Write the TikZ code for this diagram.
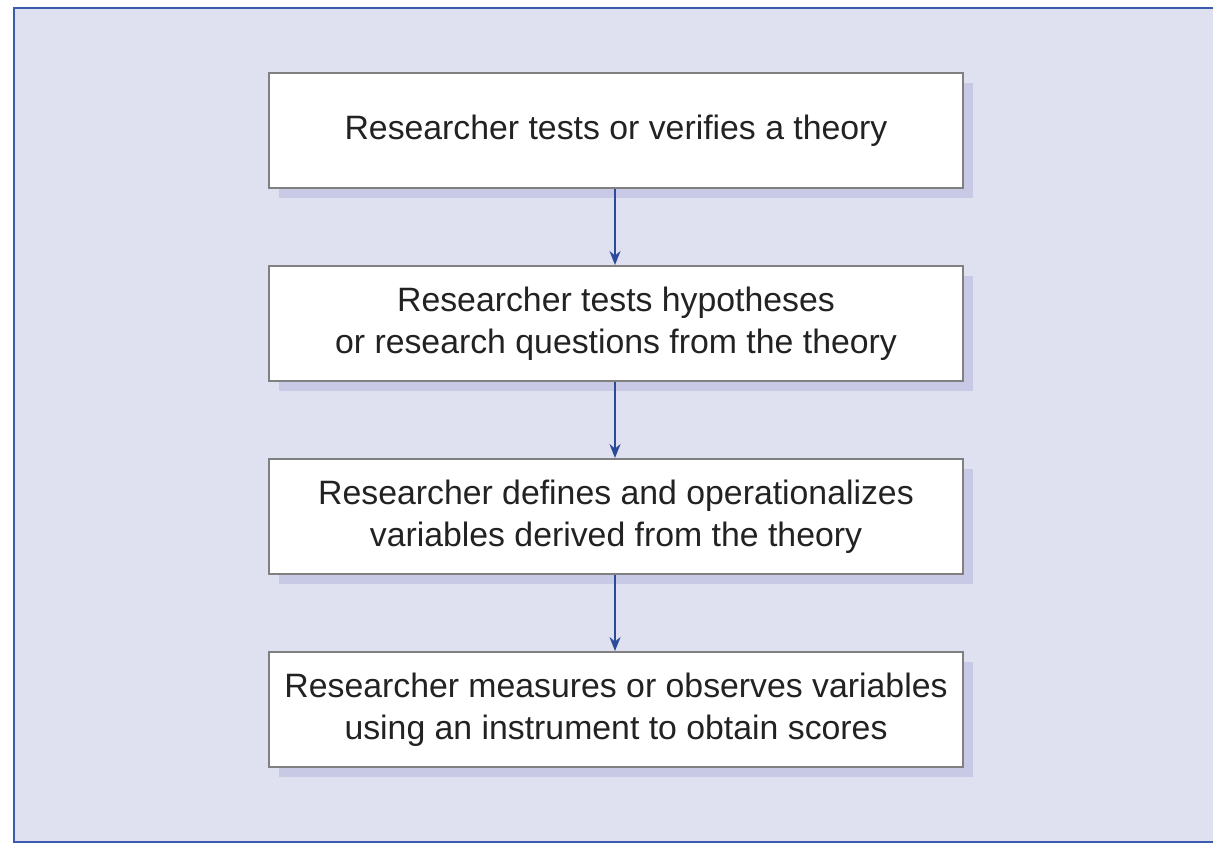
\documentclass[tikz,border=0pt]{standalone}
\usepackage{fontspec}
\setmainfont{Liberation Sans}
\usetikzlibrary{arrows.meta,shadows}
\definecolor{panelbg}{HTML}{DFE0F0}
\definecolor{panelrule}{HTML}{3A5BB0}
\definecolor{boxshade}{HTML}{C8C9E4}
\definecolor{boxrule}{HTML}{808080}
\definecolor{flowarrow}{HTML}{2A4A9A}
\definecolor{ink}{HTML}{222222}
\tikzset{
  stepbox/.style={draw=boxrule, line width=2pt, fill=white,
    minimum width=694pt, minimum height=115pt, inner sep=0pt,
    align=center, text=ink,
    font=\fontsize{33.8pt}{42pt}\selectfont,
    general shadow={fill=boxshade, shadow xshift=10pt, shadow yshift=-10pt, draw=none}},
  flow/.style={draw=flowarrow, line width=1.5pt,
    -{Stealth[length=14pt,width=11pt]}}
}
\begin{document}
\begin{tikzpicture}[x=1pt,y=-1pt]
  \useasboundingbox (0,0) rectangle (1213,844);
  \clip (0,0) rectangle (1213,844);
  % panel behind the flow chart, open on the right
  \fill[white] (0,0) rectangle (1213,844);
  \draw[panelrule, line width=2pt, fill=panelbg] (14,8) rectangle (1240,842);
  % steps
  \node[stepbox] (s1) at (616,130.5) {Researcher tests or verifies a theory};
  \node[stepbox] (s2) at (616,323.5) {Researcher tests hypotheses\\or research questions from the theory};
  \node[stepbox] (s3) at (616,516.5) {Researcher defines and operationalizes\\variables derived from the theory};
  \node[stepbox] (s4) at (616,709.5) {Researcher measures or observes variables\\using an instrument to obtain scores};
  % connectors
  \draw[flow] (s1.south -| 615,0) -- (s2.north -| 615,0);
  \draw[flow] (s2.south -| 615,0) -- (s3.north -| 615,0);
  \draw[flow] (s3.south -| 615,0) -- (s4.north -| 615,0);
\end{tikzpicture}
\end{document}
